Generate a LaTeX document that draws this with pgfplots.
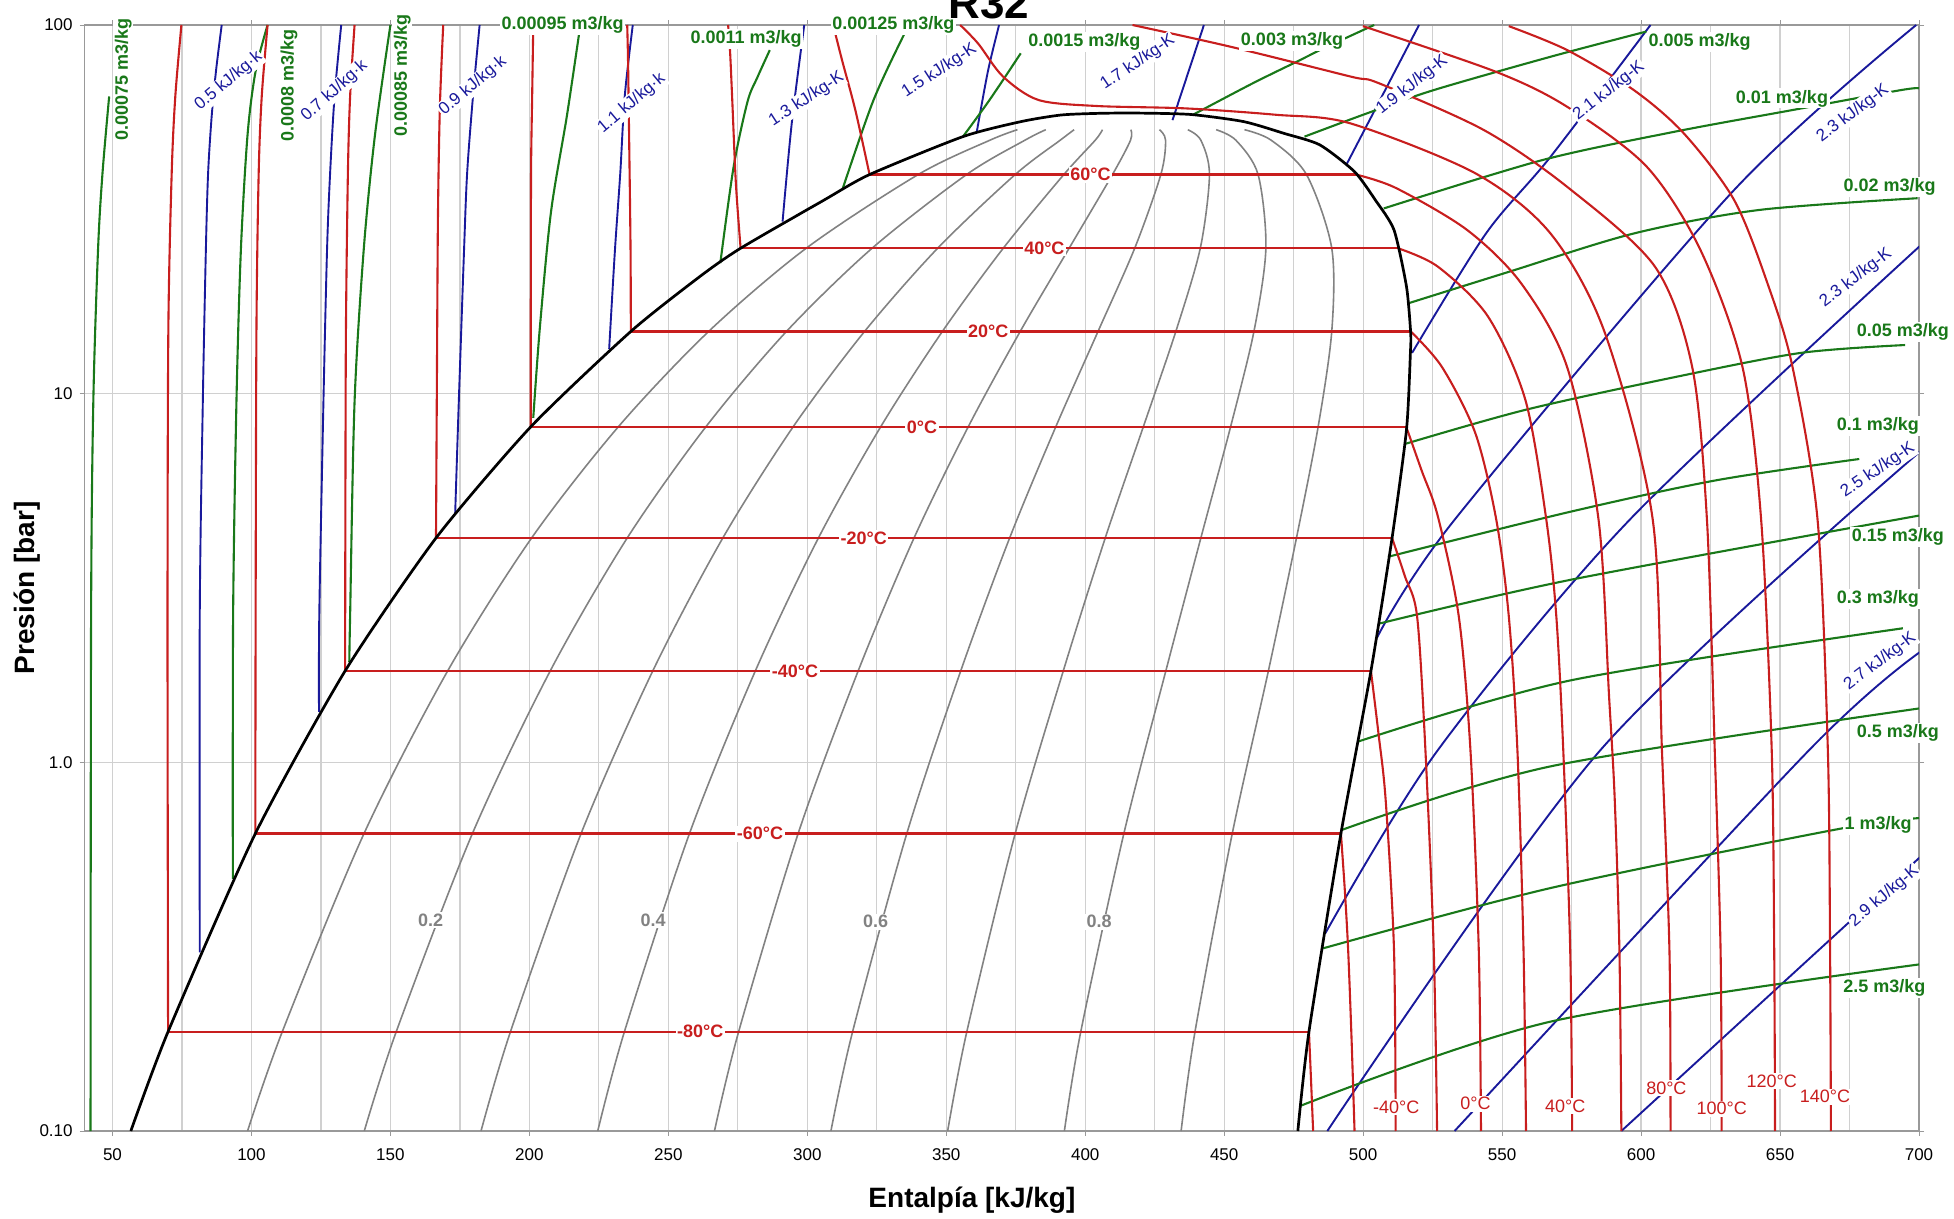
\documentclass[border=0pt]{standalone}
\usepackage{fontspec}
\setmainfont{Liberation Sans}
\usepackage{pgfplots}
\pgfplotsset{compat=1.18}
\usetikzlibrary{calc}
\definecolor{cred}{RGB}{200,30,30}
\definecolor{cblue}{RGB}{25,25,155}
\definecolor{cgreen}{RGB}{25,120,25}
\definecolor{cgray}{RGB}{130,130,130}
\definecolor{cgrid}{RGB}{208,208,208}
\tikzset{
 rl/.style={fill=white, inner sep=0.8pt, text=cred, font=\fontsize{9}{10}\bfseries\selectfont},
 rb/.style={fill=white, inner sep=0.8pt, text=cred, font=\fontsize{9}{10}\selectfont},
 bl/.style={fill=white, inner sep=0.6pt, text=cblue, font=\fontsize{8.5}{10}\selectfont},
 gl/.style={fill=white, inner sep=0.8pt, text=cgreen, font=\fontsize{9}{10}\bfseries\selectfont},
 ql/.style={fill=white, inner sep=0.8pt, text=cgray, font=\fontsize{9}{10}\bfseries\selectfont},
}
\pgfplotsset{
 qual/.style={no markers, smooth, draw=cgray, line width=0.8pt},
 iso/.style={no markers, smooth, draw=cred, line width=1.05pt},
 isoh/.style={no markers, draw=cred, line width=1.15pt},
 ent/.style={no markers, smooth, draw=cblue, line width=0.95pt},
 vol/.style={no markers, smooth, draw=cgreen, line width=1.05pt},
}
\begin{document}
\begin{tikzpicture}
\begin{axis}[name=ax, scale only axis, width=917.15pt, height=553pt,
 xmin=40, xmax=700, ymode=log, log basis y=10, ymin=0.1, ymax=100,
 xtick={50,100,...,700}, minor x tick num=1,
 ytick={0.1,1,10,100}, yticklabels={0.10,1.0,10,100},
 grid=both,
 major grid style={draw=cgrid, line width=0.6pt},
 minor grid style={draw=cgrid, line width=0.6pt},
 axis line style={draw=gray!80, line width=0.8pt},
 tick align=outside, major tick length=2.5pt, minor tick length=0pt,
 tick style={draw=gray!80},
 tick label style={font=\fontsize{8.5}{10}\selectfont},
 /pgf/number format/assume math mode=true,
 xticklabel style={yshift=-3pt},
 clip mode=individual,
 xlabel={Entalpía [kJ/kg]}, ylabel={Presión [bar]},
 every axis x label/.style={at={(axis description cs:0.4837,-0.0624)}, anchor=center, font=\fontsize{14}{16}\bfseries\selectfont},
 every axis y label/.style={at={(axis description cs:-0.03124,0.491)}, rotate=90, anchor=center, font=\fontsize{14}{16}\bfseries\selectfont},
]
% quality lines
\addplot[qual] coordinates {(98.6,0.1)(111.1,0.186)(140.5,0.641)(170.6,1.77)(200.8,4.06)(232.0,8.13)(264.5,14.75)(299.6,24.8)(339.9,39.3)(365.7,48.7)(375.6,52)};
\addplot[qual] coordinates {(140.6,0.1)(152.1,0.186)(179.5,0.641)(207.5,1.77)(235.2,4.06)(263.5,8.13)(292.5,14.75)(323.3,24.8)(357.3,39.3)(378.3,48.7)(385.8,52)};
\addplot[qual] coordinates {(182.6,0.1)(193.2,0.186)(218.6,0.641)(244.4,1.77)(269.6,4.06)(294.9,8.13)(320.6,14.75)(346.9,24.8)(374.8,39.3)(391,48.7)(396,52)};
\addplot[qual] coordinates {(224.6,0.1)(234.2,0.186)(257.6,0.641)(281.3,1.77)(304,4.06)(326.4,8.13)(348.6,14.75)(370.5,24.8)(392.3,39.3)(403.6,48.7)(406.2,52)};
\addplot[qual] coordinates {(266.6,0.1)(275.3,0.186)(296.7,0.641)(318.3,1.77)(338.4,4.06)(357.9,8.13)(376.6,14.75)(394.2,24.8)(409.8,39.3)(416.3,48.7)(416.4,52)};
\addplot[qual] coordinates {(308.5,0.1)(316.3,0.186)(335.8,0.641)(355.2,1.77)(372.8,4.06)(389.4,8.13)(404.6,14.75)(417.8,24.8)(427.2,39.3)(428.9,48.7)(426.7,52)};
\addplot[qual] coordinates {(350.5,0.1)(357.4,0.186)(374.8,0.641)(392.1,1.77)(407.2,4.06)(420.9,8.13)(432.6,14.75)(441.4,24.8)(444.7,39.3)(441.6,48.7)(436.9,52)};
\addplot[qual] coordinates {(392.5,0.1)(398.4,0.186)(413.9,0.641)(429,1.77)(441.6,4.06)(452.3,8.13)(460.7,14.75)(465,24.8)(462.2,39.3)(454.2,48.7)(447.1,52)};
\addplot[qual] coordinates {(434.5,0.1)(439.5,0.186)(452.9,0.641)(465.9,1.77)(476,4.06)(483.8,8.13)(488.7,14.75)(488.7,24.8)(479.6,39.3)(466.9,48.7)(457.3,52)};
% entropy lines
\addplot[ent] coordinates {(81.4,0.305)(81.4,2.5)(82.5,9.5)(83.6,24.6)(84.4,39.6)(85.7,56.7)(87.3,75.7)(89.3,100)};
\addplot[ent] coordinates {(124.3,1.37)(124.4,2.5)(125.9,9.5)(127.2,24.6)(128.3,39.6)(129.9,64)(132.3,100)};
\addplot[ent] coordinates {(173.3,4.73)(174.6,9.5)(176.5,24.6)(177.6,39.6)(179.7,64)(182.1,100)};
\addplot[ent] coordinates {(228.7,13.2)(230.8,24.6)(232.7,39.6)(234.3,64)(237.2,100)};
\addplot[ent] coordinates {(291.1,29.3)(294.4,54.1)(298.9,100)};
\addplot[ent] coordinates {(361,51.4)(365,75)(369,100)};
\addplot[ent] coordinates {(431.4,55.2)(442.7,100)};
\addplot[ent] coordinates {(493.9,41.7)(520.1,100)};
\addplot[ent] coordinates {(517.6,12.9)(544.2,27.2)(567.4,43.9)(603.4,100)};
\addplot[ent] coordinates {(505,2.18)(532.9,4.55)(633.5,35.7)(699,100)};
\addplot[ent] coordinates {(486.4,0.344)(526.9,1.08)(595.9,4.55)(700.7,25.3)};
\addplot[ent] coordinates {(487.1,0.1)(585.4,1.08)(700.7,7.0)};
\addplot[ent] coordinates {(532.9,0.1)(660.5,1.08)(700.7,2.0)};
\addplot[ent] coordinates {(592.9,0.1)(700.7,0.556)};
% specific volume lines
\addplot[vol] coordinates {(42.1,0.1)(42.3,2.5)(43.1,9.5)(44.8,24.6)(46.4,39.6)(48.8,64)};
\addplot[vol] coordinates {(93.3,0.483)(93.4,2.5)(94.6,9.5)(96.2,24.6)(98.6,50.4)(101.5,75)(105.8,100)};
\addplot[vol] coordinates {(135.2,1.87)(135.5,2.5)(137.1,9.5)(140.4,24.6)(144.4,50)(150,100)};
\addplot[vol] coordinates {(201.4,8.6)(203.8,15.2)(207.8,31.2)(213.5,56.7)(218.3,99.5)};
\addplot[vol] coordinates {(268.7,22.6)(273.5,41.3)(278.5,62)(282,72)(286.5,85.5)};
\addplot[vol] coordinates {(312.8,36.1)(323.8,62.5)(335,94.9)(337,100)};
\addplot[vol] coordinates {(356,49.8)(365.5,62.5)(376.8,83.8)};
\addplot[vol] coordinates {(438.6,57)(460.3,69.5)(477.4,80.4)(484.4,85.5)(501.4,98)(504,100)};
\addplot[vol] coordinates {(478.9,49.8)(501.4,57.6)(525.4,66.6)(567.4,82)(601.9,96)};
\addplot[vol] coordinates {(507.4,31.8)(564.4,43)(612.4,51.4)(654.5,58.8)(693.5,66.6)(700,67.3)};
\addplot[vol] coordinates {(516.4,17.6)(552.4,21.4)(597.4,27.2)(642.5,31.5)(699.5,33.9)};
\addplot[vol] coordinates {(514.9,7.3)(558.4,9.04)(612.4,11.1)(657.5,12.9)(695,13.55)};
\addplot[vol] coordinates {(508.9,3.61)(574.9,4.79)(627.5,5.83)(678.5,6.65)};
\addplot[vol] coordinates {(505.9,2.38)(574.9,3.13)(700,4.67)};
\addplot[vol] coordinates {(498.4,1.14)(574.9,1.67)(694.2,2.31)};
\addplot[vol] coordinates {(492.4,0.656)(567.4,0.975)(700,1.4)};
\addplot[vol] coordinates {(485.6,0.313)(567.4,0.456)(669.5,0.656)(700,0.706)};
\addplot[vol] coordinates {(477.4,0.117)(567.4,0.198)(700,0.283)};
% isotherms: liquid
\addplot[iso] coordinates {(70,0.186)(69.8,2.5)(70.1,15)(71.3,39.6)(72.6,64)(74.8,100)};
\addplot[iso] coordinates {(101.4,0.641)(101.5,2.5)(101.8,15)(102.6,39.6)(103.7,64)(105.8,100)};
\addplot[iso] coordinates {(133.7,1.77)(133.8,5)(134,15)(134.7,39.6)(135.5,64)(137.1,100)};
\addplot[iso] coordinates {(166.4,4.06)(166.7,10)(167.1,30)(167.8,60)(169,100)};
\addplot[iso] coordinates {(200.5,8.13)(200.5,15)(200.6,39.6)(201,64)(201.4,100)};
\addplot[iso] coordinates {(236.5,14.75)(236.4,24.6)(235.9,49)(235.5,80)(235.2,100)};
\addplot[iso] coordinates {(276,24.8)(274.3,37.2)(273,62.5)(272.2,85)(271.5,100)};
\addplot[iso] coordinates {(322.4,39.3)(317.3,58.7)(312.5,80.3)(309.3,100)};
% isotherms: two-phase
\addplot[isoh] coordinates {(70,0.186)(480.5,0.186)};
\addplot[isoh] coordinates {(101.4,0.641)(492,0.641)};
\addplot[isoh] coordinates {(133.7,1.77)(502.8,1.77)};
\addplot[isoh] coordinates {(166.4,4.06)(510.4,4.06)};
\addplot[isoh] coordinates {(200.5,8.13)(515.5,8.13)};
\addplot[isoh] coordinates {(236.5,14.75)(517.1,14.75)};
\addplot[isoh] coordinates {(276,24.8)(512.5,24.8)};
\addplot[isoh] coordinates {(322.4,39.3)(497.4,39.3)};
% isotherms: vapour / supercritical
\addplot[iso] coordinates {(480.5,0.186)(481.2,0.14)(482,0.1)};
\addplot[iso] coordinates {(492,0.641)(493.4,0.45)(494.6,0.31)(495.8,0.18)(496.9,0.1)};
\addplot[iso] coordinates {(502.8,1.77)(505.5,1.2)(508.1,0.79)(511.1,0.31)(511.7,0.1)};
\addplot[iso] coordinates {(510.4,4.06)(515,3.2)(519.4,2.49)(522.4,1.08)(525.4,0.31)(526.6,0.1)};
\addplot[iso] coordinates {(515.5,8.13)(521,6.2)(526.9,4.64)(534.4,2.49)(538.6,1.08)(541.6,0.31)(542.4,0.1)};
\addplot[iso] coordinates {(517.1,14.75)(528.4,11.8)(540.4,7.8)(547.9,4.55)(552.4,2.49)(555.5,1.08)(557.7,0.31)(558.6,0.1)};
\addplot[iso] coordinates {(512.5,24.8)(526.9,22.1)(544.9,16.2)(558.4,9.6)(565.9,4.55)(569.5,2.49)(572,1.08)(574.5,0.31)(575.2,0.1)};
\addplot[iso] coordinates {(497.4,39.3)(511.9,36.1)(537.4,27.8)(556.9,19.9)(573.4,11.8)(584.7,4.55)(588.5,1.5)(590.5,0.8)(592.2,0.31)(592.9,0.1)};
\addplot[iso] coordinates {(355,100)(361.5,89)(370.4,72.5)(383.2,62.6)(404.1,60.3)(436.2,59.4)(468.4,57.1)(495.4,54.1)(540.4,39.6)(567.4,27.2)(587,14.6)(604.2,4.55)(607.5,1.08)(610.2,0.31)(610.6,0.1)};
\addplot[iso] coordinates {(417,100)(452.3,87.3)(495.4,72.5)(505.9,69.4)(543.4,51.9)(573.4,36.4)(605,22.1)(618.4,11.8)(623.7,4.55)(626.5,1.08)(628.6,0.31)(629,0.1)};
\addplot[iso] coordinates {(499.9,99.3)(547.9,74.6)(573.4,60)(602,41.3)(621.4,24.5)(636.5,11.8)(643.2,4.55)(647,1.08)(647.9,0.31)(648.2,0.1)};
\addplot[iso] coordinates {(552.4,99.3)(573.4,85.5)(597.4,66.6)(615.4,50.8)(633.5,33.5)(645.5,19.9)(654.5,11.8)(663.5,4.55)(667.2,1.08)(668,0.31)(668.3,0.1)};
% saturation dome
\addplot[no markers, smooth, tension=0.4, draw=black, line width=1.35pt] coordinates {(56.6,0.1)(70,0.186)(101.4,0.641)(133.7,1.77)(166.4,4.06)(200.5,8.13)(236.5,14.75)(261.4,20.8)(276,24.8)(306,33.5)(322.4,39.3)(356,49.8)(376.9,54.7)(391.3,57.0)(405,57.6)(418.5,57.7)(437.8,57.2)(457,54.7)(471.6,50.8)(484.4,47.3)(496.9,40)(504.4,33.5)(511.1,27.8)(515.6,19.5)(517.1,14.6)(517,12.9)(515.6,8)(510.4,4.06)(502.8,1.77)(492,0.641)(480.5,0.186)(476.5,0.1)};
% labels: quality
\node[ql] at (axis cs:164.5,0.373) {0.2};
\node[ql] at (axis cs:244.5,0.373) {0.4};
\node[ql] at (axis cs:324.6,0.37) {0.6};
\node[ql] at (axis cs:405,0.37) {0.8};
% labels: isotherms
\node[rl] at (axis cs:401.9,39.3) {60°C};
\node[rl] at (axis cs:385.3,24.8) {40°C};
\node[rl] at (axis cs:365.1,14.75) {20°C};
\node[rl] at (axis cs:341.3,8.13) {0°C};
\node[rl] at (axis cs:320.3,4.06) {-20°C};
\node[rl] at (axis cs:295.6,1.77) {-40°C};
\node[rl] at (axis cs:283,0.641) {-60°C};
\node[rl] at (axis cs:261.5,0.186) {-80°C};
\node[rb] at (axis cs:511.9,0.116) {-40°C};
\node[rb] at (axis cs:540.4,0.1186) {0°C};
\node[rb] at (axis cs:572.7,0.117) {40°C};
\node[rb] at (axis cs:609.1,0.1308) {80°C};
\node[rb] at (axis cs:629,0.115) {100°C};
\node[rb] at (axis cs:647,0.1363) {120°C};
\node[rb] at (axis cs:666.2,0.124) {140°C};
% labels: entropy
\node[bl, rotate=40] at (axis cs:91.8,70.4) {0.5 kJ/kg·k};
\node[bl, rotate=42] at (axis cs:129.9,66.2) {0.7 kJ/kg·k};
\node[bl, rotate=40] at (axis cs:179.7,68.4) {0.9 kJ/kg·k};
\node[bl, rotate=40] at (axis cs:236.8,61.3) {1.1 kJ/kg·k};
\node[bl, rotate=33] at (axis cs:299.7,62.9) {1.3 kJ/kg-K};
\node[bl, rotate=33] at (axis cs:347.5,75.1) {1.5 kJ/kg-K};
\node[bl, rotate=34] at (axis cs:418.9,79.1) {1.7 kJ/kg-K};
\node[bl, rotate=38] at (axis cs:517.6,68.7) {1.9 kJ/kg-K};
\node[bl, rotate=38] at (axis cs:588.4,66.3) {2.1 kJ/kg-K};
\node[bl, rotate=37] at (axis cs:676.2,57.6) {2.3 kJ/kg-K};
\node[bl, rotate=37] at (axis cs:677.3,20.6) {2.3 kJ/kg-K};
\node[bl, rotate=34] at (axis cs:685.2,6.2) {2.5 kJ/kg-K};
\node[bl, rotate=37] at (axis cs:686,1.88) {2.7 kJ/kg-K};
\node[bl, rotate=40] at (axis cs:687.5,0.433) {2.9 kJ/kg-K};
% labels: specific volume
\node[gl, rotate=90] at (axis cs:53.9,71.2) {0.00075 m3/kg};
\node[gl, rotate=90] at (axis cs:113.5,68.7) {0.0008 m3/kg};
\node[gl, rotate=90] at (axis cs:154.3,72.9) {0.00085 m3/kg};
\node[gl] at (axis cs:212,100) {0.00095 m3/kg};
\node[gl] at (axis cs:278,91.6) {0.0011 m3/kg};
\node[gl] at (axis cs:331,100) {0.00125 m3/kg};
\node[gl] at (axis cs:399.7,89.8) {0.0015 m3/kg};
\node[gl] at (axis cs:474.4,90.6) {0.003 m3/kg};
\node[gl] at (axis cs:621.1,89.8) {0.005 m3/kg};
\node[gl] at (axis cs:650.7,63.2) {0.01 m3/kg};
\node[gl] at (axis cs:689.4,36.3) {0.02 m3/kg};
\node[gl] at (axis cs:694.2,14.7) {0.05 m3/kg};
\node[gl] at (axis cs:685.2,8.19) {0.1 m3/kg};
\node[gl] at (axis cs:692.4,4.08) {0.15 m3/kg};
\node[gl] at (axis cs:685.2,2.78) {0.3 m3/kg};
\node[gl] at (axis cs:692.4,1.2) {0.5 m3/kg};
\node[gl] at (axis cs:685.3,0.677) {1 m3/kg};
\node[gl] at (axis cs:687.5,0.244) {2.5 m3/kg};
% title (partly cut off at the top, as in the reference)
\node[anchor=base, yshift=3.4pt, font=\fontsize{22}{26}\bfseries\selectfont] at (axis cs:365.4,100) {R32};
\end{axis}
\pgfresetboundingbox
\path[use as bounding box] ($(ax.south west)+(-42.35pt,-44pt)$) rectangle ($(ax.north east)+(17.5pt,12.5pt)$);
\end{tikzpicture}
\end{document}
